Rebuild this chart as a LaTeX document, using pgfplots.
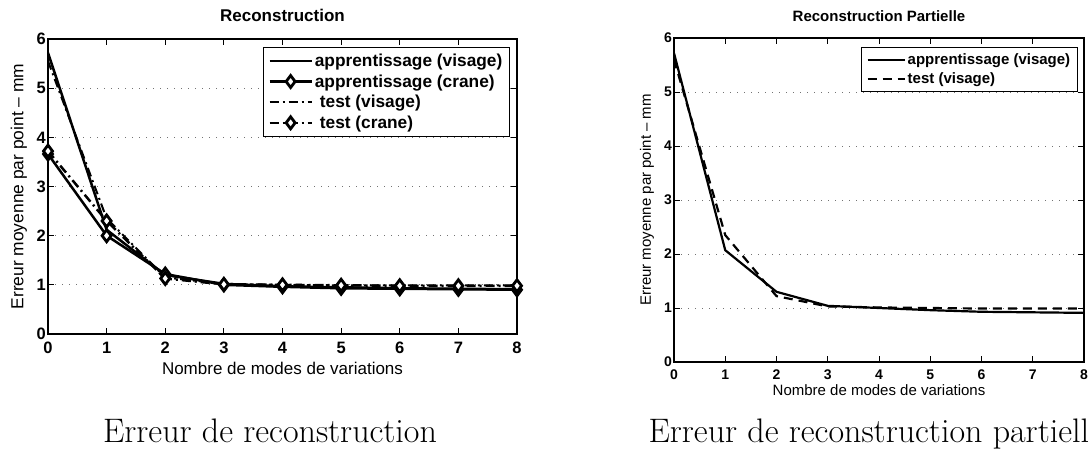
\documentclass[border=0pt]{standalone}
\usepackage{fontspec}
\usepackage{pgfplots}
\usepackage{pgfplotstable}
\pgfplotsset{compat=1.18}
\newfontfamily\arial{Liberation Sans}

% reconstruction error (mm) against number of modes
\pgfplotstableread{
x appv appc testv testc
0 5.72 3.66 5.55 3.72
1 2.12 2.00 2.35 2.30
2 1.20 1.22 1.15 1.13
3 1.02 1.00 1.02 1.01
4 0.97 0.96 1.00 1.00
5 0.95 0.93 0.99 0.99
6 0.93 0.92 0.99 0.98
7 0.92 0.91 0.99 0.98
8 0.91 0.90 0.99 0.98
}\recon

\pgfplotstableread{
x appv testv
0 5.72 5.60
1 2.07 2.35
2 1.30 1.22
3 1.04 1.03
4 1.00 1.01
5 0.96 1.00
6 0.93 0.99
7 0.92 0.99
8 0.91 0.99
}\partielle

\pgfplotsset{
  matlab/.style={
    scale only axis,
    xmin=0, xmax=8, ymin=0, ymax=6,
    xtick={0,...,8}, ytick={0,...,6},
    tick align=inside, tick pos=both,
    major tick length=6pt,
    axis line style={line width=1.5pt},
    every tick/.style={black, line width=1pt},
    ymajorgrids,
    major grid style={black!55, line width=0.9pt, dash pattern=on 1pt off 6pt},
    /pgf/number format/assume math mode=true,
    yticklabel style={inner xsep=2pt},
    xticklabel style={inner ysep=8pt},
    legend cell align=left,
    legend style={draw=black, line width=1.2pt, anchor=north east,
      inner xsep=5pt, inner ysep=3pt,
      nodes={inner xsep=2pt, inner ysep=3.3pt}},
  },
}

\begin{document}
\begin{tikzpicture}
\useasboundingbox (0pt,0pt) rectangle (1089pt,448pt);

\begin{axis}[matlab,
  at={(48pt,114pt)}, anchor=south west, width=469pt, height=295pt,
  ticklabel style={font=\arial\bfseries\fontsize{16.5}{16.5}\selectfont},
  title={Reconstruction},
  title style={font=\arial\bfseries\fontsize{17}{17}\selectfont,
    at={(axis description cs:0.5,1.061)}, anchor=center},
  xlabel={Nombre de modes de variations},
  xlabel style={font=\arial\fontsize{17}{17}\selectfont,
    at={(axis description cs:0.5,-0.117)}, anchor=center},
  ylabel={Erreur moyenne par point – mm},
  ylabel style={font=\arial\fontsize{17.4}{17.4}\selectfont,
    at={(axis description cs:-0.062,0.5)}, anchor=center},
  legend style={at={(axis description cs:0.985,0.973)},
    font=\arial\bfseries\fontsize{17.3}{17.3}\selectfont},
  legend image code/.code={\draw[mark repeat=2,mark phase=2,#1]
    plot coordinates {(0pt,0pt) (21pt,0pt) (42pt,0pt)};},
]
\addplot[black, line width=2.5pt] table[x=x,y=appv] {\recon};
\addlegendentry{apprentissage (visage)}
\addplot[black, line width=2.5pt, mark=diamond*, mark size=6pt,
  mark options={solid, fill=white, line width=2.8pt}] table[x=x,y=appc] {\recon};
\addlegendentry{apprentissage (crane)}
\addplot[black, line width=2pt, dash pattern=on 9pt off 4pt on 2pt off 4pt]
  table[x=x,y=testv] {\recon};
\addlegendentry{\hspace{5pt}test (visage)}
\addplot[black, line width=2.5pt, dash pattern=on 9pt off 4pt on 2pt off 4pt,
  mark=diamond*, mark size=6pt,
  mark options={solid, fill=white, line width=2.8pt}] table[x=x,y=testc] {\recon};
\addlegendentry{\hspace{5pt}test (crane)}
\end{axis}

\begin{axis}[matlab,
  at={(674pt,86pt)}, anchor=south west, width=410pt, height=324pt,
  ticklabel style={font=\arial\bfseries\fontsize{14}{14}\selectfont},
  title={Reconstruction Partielle},
  title style={font=\arial\bfseries\fontsize{15}{15}\selectfont,
    at={(axis description cs:0.5,1.049)}, anchor=center},
  xlabel={Nombre de modes de variations},
  xlabel style={font=\arial\fontsize{15}{15}\selectfont,
    at={(axis description cs:0.5,-0.088)}, anchor=center},
  ylabel={Erreur moyenne par point – mm},
  ylabel style={font=\arial\fontsize{15}{15}\selectfont,
    at={(axis description cs:-0.066,0.5)}, anchor=center},
  legend style={at={(axis description cs:0.985,0.972)},
    font=\arial\bfseries\fontsize{15}{15}\selectfont},
  legend image code/.code={\draw[#1]
    plot coordinates {(0pt,0pt) (37pt,0pt)};},
]
\addplot[black, line width=2.2pt] table[x=x,y=appv] {\partielle};
\addlegendentry{apprentissage (visage)}
\addplot[black, line width=2.2pt, dash pattern=on 9pt off 6pt]
  table[x=x,y=testv] {\partielle};
\addlegendentry{test (visage)}
\end{axis}

\node[anchor=base, font=\fontsize{34}{34}\selectfont] at (270pt,6pt)
  {Erreur de reconstruction};
\node[anchor=base west, font=\fontsize{34}{34}\selectfont] at (645pt,6pt)
  {Erreur de reconstruction partielle};
\end{tikzpicture}
\end{document}
